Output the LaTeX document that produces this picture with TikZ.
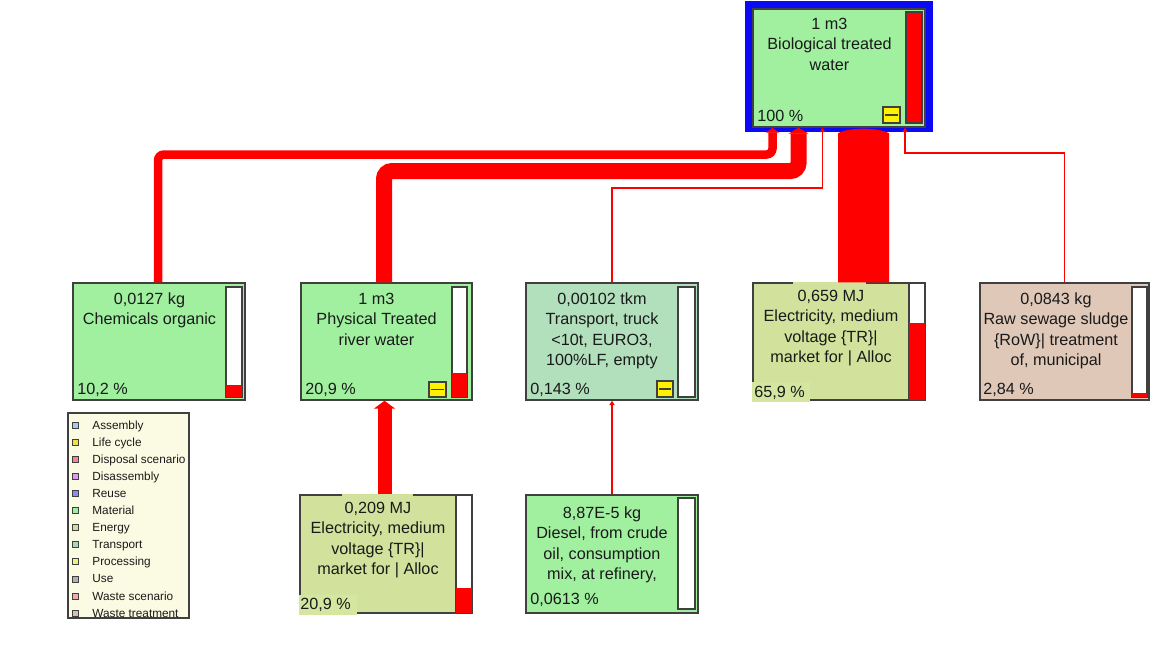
\documentclass[tikz,border=0pt]{standalone}
\usepackage{fontspec}
\setmainfont{Liberation Sans}
\usetikzlibrary{fit,arrows.meta,calc}
\definecolor{matc}{HTML}{A0F0A0}
\definecolor{enc}{HTML}{D2E19B}
\definecolor{enlbl}{HTML}{D4E6A0}
\definecolor{trc}{HTML}{B2DFBC}
\definecolor{wtc}{HTML}{E0C8B8}
\definecolor{legc}{HTML}{FBFBE3}
\definecolor{bordc}{HTML}{404040}
\definecolor{txtc}{HTML}{1A1A1A}
\definecolor{frameblue}{HTML}{0A0AF5}
\definecolor{lgA}{HTML}{A8C8F0}
\definecolor{lgB}{HTML}{F0E040}
\definecolor{lgC}{HTML}{F08888}
\definecolor{lgD}{HTML}{E098F0}
\definecolor{lgE}{HTML}{8C8CF0}
\definecolor{lgF}{HTML}{98F098}
\definecolor{lgG}{HTML}{CCE094}
\definecolor{lgH}{HTML}{A8D8B8}
\definecolor{lgI}{HTML}{F0F078}
\definecolor{lgJ}{HTML}{B0B0B0}
\definecolor{lgK}{HTML}{F0AAAA}
\definecolor{lgL}{HTML}{D8C0B0}
\tikzset{
  box/.style={draw=bordc, line width=0.7pt, inner sep=0pt},
  barbox/.style={draw=bordc, line width=0.6pt, fill=white, inner sep=0pt},
  redpart/.style={fill=red, inner sep=0pt},
  lbl/.style={font=\fontsize{8.1}{10.3}\selectfont, align=center, anchor=base, inner sep=0pt, text=txtc},
  pct/.style={font=\fontsize{8.1}{10.3}\selectfont, anchor=base west, inner sep=0pt, text=txtc},
  legtxt/.style={font=\fontsize{5.9}{7}\selectfont, anchor=base west, inner sep=0pt, text=txtc},
  legsq/.style={draw=bordc, line width=0.4pt, inner sep=0pt, minimum size=3pt},
  flow/.style={draw=red, line cap=butt},
  thinflow/.style={draw=red, line width=0.6pt, -{Triangle[width=2.6pt,length=2.2pt]}},
  minusbox/.style={box, fill=yellow}
}
\begin{document}
\begin{tikzpicture}[x=0.5pt,y=-0.5pt]
\useasboundingbox (0,0) rectangle (1152,644);
\fill[white] (0,0) rectangle (1152,644);

% ---------- top node ----------
\node[fill=frameblue, inner sep=0pt, fit={(745,1) (933,132)}] (topframe) {};
\node[box, fill=matc, fit={(753,9) (925,127)}] (top) {};
\node[barbox, fill=red, fit={(906,12) (922,123)}] (topbar) {};
\node[minusbox, fit={(883,107) (900,123)}] (topmin) {};
\draw[bordc, line width=0.7pt] ($(topmin.west)+(3,0)$) -- ($(topmin.east)+(-3,0)$);
\node[lbl] (toptxt) at (829.5,70.2) {1 m3\\Biological treated\\water};
\node[pct] (toppct) at (757,121) {100 \%};

% ---------- Chemicals organic ----------
\node[box, fill=matc, fit={(73,283) (245,400)}] (chem) {};
\node[barbox, fit={(226,287) (242,397)}] (chembar) {};
\node[redpart, fit={(226,385) (242,397)}] (chemred) {};
\draw[bordc, line width=0.6pt] (chembar.south west) rectangle (chembar.north east);
\node[lbl] (chemtxt) at (149.5,324.6) {0,0127 kg\\Chemicals organic};
\node[pct] (chempct) at (77,394) {10,2 \%};

% ---------- Physical Treated river water ----------
\node[box, fill=matc, fit={(301,283) (472,400)}] (phys) {};
\node[barbox, fit={(452,287) (467,397)}] (physbar) {};
\node[redpart, fit={(452,373) (467,397)}] (physred) {};
\draw[bordc, line width=0.6pt] (physbar.south west) rectangle (physbar.north east);
\node[minusbox, fit={(429,382) (446,397)}] (physmin) {};
\draw[bordc, line width=0.7pt] ($(physmin.west)+(3,0)$) -- ($(physmin.east)+(-3,0)$);
\node[lbl] (phystxt) at (376.5,345.2) {1 m3\\Physical Treated\\river water};
\node[pct] (physpct) at (305,394) {20,9 \%};

% ---------- Transport ----------
\node[box, fill=trc, fit={(526,283) (698,400)}] (trans) {};
\node[barbox, fit={(678,287) (695,397)}] (transbar) {};
\node[minusbox, fit={(657,381) (673,397)}] (transmin) {};
\draw[bordc, line width=0.7pt] ($(transmin.west)+(3,0)$) -- ($(transmin.east)+(-3,0)$);
\node[lbl] (transtxt) at (602,365.8) {0,00102 tkm\\Transport, truck\\<10t, EURO3,\\100\%LF, empty};
\node[pct] (transpct) at (530,394) {0,143 \%};

% ---------- Electricity 0,659 MJ ----------
\node[box, fill=enc, fit={(753,283) (925,400)}] (elecA) {};
\node[barbox, fit={(909,283) (925,400)}] (elecAbar) {};
\node[redpart, fit={(909,323) (925,400)}] (elecAred) {};
\draw[bordc, line width=0.6pt] (elecAbar.south west) rectangle (elecAbar.north east);
\fill[enc] (793,281.5) rectangle (866,284.6);
\fill[enlbl] (752,382) rectangle (810,401.5);
\node[lbl] (elecAtxt) at (831,362.8) {0,659 MJ\\Electricity, medium\\voltage \{TR\}|\\market for | Alloc};
\node[pct] (elecApct) at (754,397) {65,9 \%};

% ---------- Raw sewage sludge ----------
\node[box, fill=wtc, fit={(980,283) (1149,400)}] (sew) {};
\node[barbox, fit={(1132,287) (1147,397)}] (sewbar) {};
\node[redpart, fit={(1132,393) (1147,397)}] (sewred) {};
\draw[bordc, line width=0.6pt] (sewbar.south west) rectangle (sewbar.north east);
\node[lbl] (sewtxt) at (1056,365.8) {0,0843 kg\\Raw sewage sludge\\\{RoW\}| treatment\\of, municipal};
\node[pct] (sewpct) at (983,394) {2,84 \%};

% ---------- Electricity 0,209 MJ ----------
\node[box, fill=enc, fit={(300,495) (472,613)}] (elecB) {};
\node[barbox, fit={(456,495) (472,613)}] (elecBbar) {};
\node[redpart, fit={(456,588) (472,613)}] (elecBred) {};
\draw[bordc, line width=0.6pt] (elecBbar.south west) rectangle (elecBbar.north east);
\fill[enc] (342,493.5) rectangle (413,496.6);
\fill[enlbl] (299,595) rectangle (357,614.5);
\node[lbl] (elecBtxt) at (378,574.8) {0,209 MJ\\Electricity, medium\\voltage \{TR\}|\\market for | Alloc};
\node[pct] (elecBpct) at (300,609) {20,9 \%};

% ---------- Diesel ----------
\node[box, fill=matc, fit={(526,495) (698,613)}] (diesel) {};
\node[barbox, fit={(678,498) (695,609)}] (dieselbar) {};
\node[lbl] (dieseltxt) at (602,579.8) {8,87E-5 kg\\Diesel, from crude\\oil, consumption\\mix, at refinery,};
\node[pct] (dieselpct) at (530,604) {0,0613 \%};

% ---------- connectors ----------
\coordinate (c1) at (772.5,154.5);
\draw[flow, line width=4.25pt, rounded corners=3pt, -{Triangle[width=6.5pt,length=2.5pt]}]
  ($(chem.north)+(-1,0)$) |- (c1) -- (c1 |- top.south);
\coordinate (p1) at (798.5,171);
\draw[flow, line width=8pt, rounded corners=4pt, -{Triangle[width=10pt,length=3pt]}]
  ($(phys.north)+(-2.5,0)$) |- (p1) -- (p1 |- top.south);
\coordinate (t1) at (822.5,188);
\draw[thinflow] (trans.north) |- (t1) -- (t1 |- top.south);
\fill[red] ($(elecA.north)+(-1,0)$) -- ($(top.south)+(-1,5.5)$)
  .. controls ($(top.south)+(10,-0.5)$) and ($(top.south)+(39,-0.5)$) ..
  ($(top.south)+(50,5.5)$) -- ($(elecA.north)+(50,0)$) -- cycle;
\coordinate (s1) at (905,153);
\draw[thinflow] (sew.north) |- (s1) -- (s1 |- top.south);
\draw[flow, line width=7pt, -{Triangle[width=10.5pt,length=4pt]}]
  ($(elecB.north)+(-1.5,0)$) -- ($(phys.south)+(-2,0)$);
\draw[thinflow] (diesel.north) -- (trans.south);

% ---------- legend ----------
\node[draw=bordc, fill=legc, line width=0.6pt, inner sep=0pt, fit={(68,413) (189,618)}] (legend) {};
\foreach \nm/\col [count=\i] in {Assembly/lgA, Life cycle/lgB, Disposal scenario/lgC,
  Disassembly/lgD, Reuse/lgE, Material/lgF, Energy/lgG, Transport/lgH,
  Processing/lgI, Use/lgJ, Waste scenario/lgK, Waste treatment/lgL}{
  \pgfmathsetmacro\yc{425+(\i-1)*17.1}
  \node[legsq, fill=\col] (lsq\i) at (75.5,\yc) {};
  \node[legtxt] (ltx\i) at (92,\yc+4) {\nm};
}
\end{tikzpicture}
\end{document}
